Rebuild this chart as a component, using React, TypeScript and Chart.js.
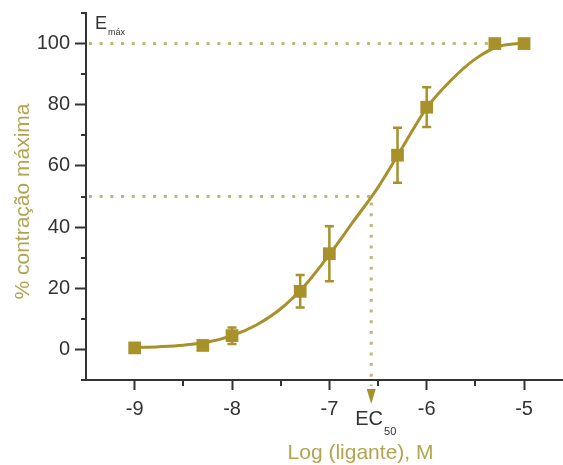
import React, { useEffect, useRef } from 'react';
import { Chart, registerables } from 'chart.js';

Chart.register(...registerables);

// ---- data ----
const logDose = [-9, -8.3, -8, -7.3, -7, -6.3, -6, -5.3, -5];
const response = [0.5, 1.3, 4.5, 19, 31.3, 63.5, 79.2, 100, 100];
const errorSize = [0, 0, 2.7, 5.3, 9, 9, 6.5, 0, 0];

const fitLogDose = [-9, -8.75, -8.5, -8.25, -8, -7.75, -7.5, -7.25, -7, -6.75, -6.5, -6.25, -6, -5.75, -5.5, -5.25, -5];
const fitResponse = [0.6, 0.9, 1.4, 2.4, 4.5, 8, 13.3, 21, 31, 42, 53, 66, 79, 88, 95, 99.2, 100.2];

const xTicks = [-9, -8, -7, -6, -5];
const xMinorTicks = [-8.5, -7.5, -6.5, -5.5];
const yTicks = [0, 20, 40, 60, 80, 100];
const yMinorTicks = [-10, 10, 30, 50, 70, 90, 110];

const emax = 100;
const halfMax = 50;
const ec50 = -6.57;
const guideStart = -9.47;
const emaxGuideEnd = -5.3;
const ec50GuideBottom = -12;

const xMin = -9.5;
const xMax = -4.6;
const yMin = -10;
const yMax = 110;

const yTitle = '% contração máxima';
const xTitle = 'Log (ligante), M';

// ---- styles ----
const GOLD = '#a8902a';
const TITLE = '#b3a452';
const DOT = '#bfb679';
const INK = '#333333';
const FONT = "'Liberation Sans', Arial, Helvetica, sans-serif";

const decor = {
  id: 'decor',
  beforeDatasetsDraw(chart: any) {
    const { ctx, scales } = chart;
    const xs = scales.x;
    const ys = scales.y;
    ctx.save();
    ctx.strokeStyle = GOLD;
    ctx.lineWidth = 2.5;
    logDose.forEach((d, i) => {
      const e = errorSize[i];
      if (!e) return;
      const x = xs.getPixelForValue(d);
      const yt = ys.getPixelForValue(response[i] + e);
      const yb = ys.getPixelForValue(response[i] - e);
      ctx.beginPath();
      ctx.moveTo(x, yt);
      ctx.lineTo(x, yb);
      ctx.moveTo(x - 4.5, yt);
      ctx.lineTo(x + 4.5, yt);
      ctx.moveTo(x - 4.5, yb);
      ctx.lineTo(x + 4.5, yb);
      ctx.stroke();
    });
    ctx.restore();
  },
  afterDraw(chart: any) {
    const { ctx, scales, chartArea } = chart;
    const xs = scales.x;
    const ys = scales.y;
    ctx.save();
    // minor ticks
    ctx.strokeStyle = INK;
    ctx.lineWidth = 2;
    ctx.beginPath();
    yMinorTicks.forEach((v) => {
      const y = Math.round(ys.getPixelForValue(v));
      ctx.moveTo(chartArea.left - 5, y);
      ctx.lineTo(chartArea.left, y);
    });
    xMinorTicks.forEach((v) => {
      const x = Math.round(xs.getPixelForValue(v));
      ctx.moveTo(x, chartArea.bottom);
      ctx.lineTo(x, chartArea.bottom + 6);
    });
    ctx.stroke();

    // EC50 arrow head
    const ax = xs.getPixelForValue(ec50);
    const ay = ys.getPixelForValue(ec50GuideBottom) + 3;
    ctx.fillStyle = GOLD;
    ctx.beginPath();
    ctx.moveTo(ax - 4.5, ay);
    ctx.lineTo(ax + 4.5, ay);
    ctx.lineTo(ax, ay + 15);
    ctx.closePath();
    ctx.fill();

    // E max label
    ctx.fillStyle = INK;
    ctx.textBaseline = 'alphabetic';
    ctx.textAlign = 'left';
    ctx.font = `18px ${FONT}`;
    ctx.fillText('E', chartArea.left + 9, chartArea.top + 16);
    ctx.font = `9px ${FONT}`;
    ctx.fillText('máx', chartArea.left + 22, chartArea.top + 22);

    // EC50 label
    ctx.font = `20px ${FONT}`;
    ctx.fillText('EC', ax - 16, chartArea.bottom + 45);
    const ecw = ctx.measureText('EC').width;
    ctx.font = `11px ${FONT}`;
    ctx.fillText('50', ax - 15 + ecw, chartArea.bottom + 55);

    // axis titles
    ctx.fillStyle = TITLE;
    ctx.font = `21px ${FONT}`;
    ctx.textAlign = 'center';
    ctx.fillText(xTitle, xs.getPixelForValue(-6.68), chartArea.bottom + 79);
    ctx.translate(23, (chartArea.top + chartArea.bottom) / 2 + 5);
    ctx.rotate(-Math.PI / 2);
    ctx.textBaseline = 'middle';
    ctx.fillText(yTitle, 0, 0);
    ctx.restore();
  },
};

export default function App() {
  const ref = useRef<HTMLCanvasElement>(null);

  useEffect(() => {
    if (!ref.current) return;
    const dotted = {
      type: 'line',
      borderColor: DOT,
      borderWidth: 3,
      borderDash: [3, 7.7],
      pointRadius: 0,
      fill: false,
    };
    const chart = new Chart(ref.current, {
      type: 'line',
      data: {
        datasets: [
          {
            label: 'dados',
            data: logDose.map((d, i) => ({ x: d, y: response[i] })),
            showLine: false,
            pointStyle: 'rect',
            pointRadius: 9,
            backgroundColor: GOLD,
            borderColor: GOLD,
            borderWidth: 0,
          },
          {
            label: 'ajuste',
            data: fitLogDose.map((d, i) => ({ x: d, y: fitResponse[i] })),
            borderColor: GOLD,
            borderWidth: 3,
            pointRadius: 0,
            cubicInterpolationMode: 'monotone',
            fill: false,
          },
          {
            ...dotted,
            label: 'Emax',
            data: [
              { x: guideStart, y: emax },
              { x: emaxGuideEnd, y: emax },
            ],
          },
          {
            ...dotted,
            label: '50%',
            data: [
              { x: guideStart, y: halfMax },
              { x: ec50, y: halfMax },
            ],
          },
          {
            ...dotted,
            label: 'EC50',
            clip: false,
            data: [
              { x: ec50, y: halfMax - 2 },
              { x: ec50, y: ec50GuideBottom },
            ],
          },
        ] as any,
      },
      options: {
        animation: false,
        responsive: false,
        layout: { autoPadding: false, padding: { top: 13, right: 0, bottom: 0, left: 0 } },
        plugins: {
          legend: { display: false },
          tooltip: { enabled: false },
          title: { display: false },
        },
        scales: {
          x: {
            type: 'linear',
            min: xMin,
            max: xMax,
            afterBuildTicks: (s: any) => {
              s.ticks = xTicks.map((v) => ({ value: v }));
            },
            afterFit: (s: any) => {
              s.height = 85;
              s.paddingLeft = 0;
              s.paddingRight = 0;
              s.paddingTop = 0;
              s.paddingBottom = 0;
            },
            grid: {
              display: true,
              drawOnChartArea: false,
              drawTicks: true,
              tickLength: 10,
              tickWidth: 2,
              tickColor: INK,
            },
            border: { display: true, color: INK, width: 2 },
            ticks: {
              color: INK,
              font: { family: FONT, size: 20 },
              padding: 7,
              maxRotation: 0,
              callback: (v: any) => String(v),
            },
          },
          y: {
            type: 'linear',
            min: yMin,
            max: yMax,
            afterBuildTicks: (s: any) => {
              s.ticks = yTicks.map((v) => ({ value: v }));
            },
            afterFit: (s: any) => {
              s.width = 86;
              s.paddingLeft = 0;
              s.paddingRight = 0;
              s.paddingTop = 0;
              s.paddingBottom = 0;
            },
            grid: {
              display: true,
              drawOnChartArea: false,
              drawTicks: true,
              tickLength: 11,
              tickWidth: 2,
              tickColor: INK,
            },
            border: { display: true, color: INK, width: 2 },
            ticks: {
              color: INK,
              font: { family: FONT, size: 20 },
              padding: 5,
              callback: (v: any) => String(v),
            },
          },
        },
      } as any,
      plugins: [decor],
    });
    return () => chart.destroy();
  }, []);

  return (
    <div style={{ position: 'fixed', left: 0, top: 0, width: 563, height: 465, background: '#fff' }}>
      <canvas ref={ref} width={563} height={465} style={{ width: 563, height: 465, display: 'block' }} />
    </div>
  );
}
